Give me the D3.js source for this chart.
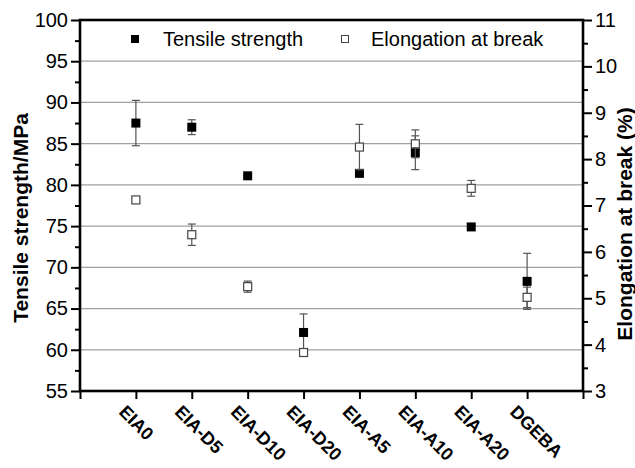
<!DOCTYPE html>
<html>
<head>
<meta charset="utf-8">
<script src="https://cdn.jsdelivr.net/npm/d3@7"></script>
<style>
  html, body { margin: 0; padding: 0; background: #fff; }
  svg { display: block; font-family: Arial, "Liberation Sans", sans-serif; }
</style>
</head>
<body>
<svg id="chart" width="635" height="468"></svg>
<script>
// Sample names along the x axis
const categories = ["EIA0", "EIA-D5", "EIA-D10", "EIA-D20", "EIA-A5", "EIA-A10", "EIA-A20", "DGEBA"];

// Tensile strength (MPa) and its standard deviation
const tensile    = [87.5, 87.0, 81.1, 62.1, 81.4, 83.9, 74.9, 68.3];
const tensileErr = [2.75, 0.9, 0.15, 2.25, 0.2, 2.05, 0.2, 3.4];

// Elongation at break (%) and its standard deviation
const elong    = [7.12, 6.37, 5.25, 3.83, 8.26, 8.33, 7.37, 5.02];
const elongErr = [0.05, 0.23, 0.12, 0.05, 0.49, 0.30, 0.17, 0.22];

// Axis ticks
const leftTicks  = [55, 60, 65, 70, 75, 80, 85, 90, 95, 100];
const rightTicks = [3, 4, 5, 6, 7, 8, 9, 10, 11];

const svg = d3.select("#chart");
const m = { left: 80, right: 583, top: 20, bottom: 391 };
const FONT = "Arial, 'Liberation Sans', sans-serif";

const x  = d3.scaleLinear().domain([0, 9]).range([m.left, m.right]);
const yL = d3.scaleLinear().domain([55, 100]).range([m.bottom, m.top]);
const yR = d3.scaleLinear().domain([3, 11]).range([m.bottom, m.top]);

// Horizontal grid lines on the left-axis major ticks
svg.append("g")
  .selectAll("line")
  .data(leftTicks.filter(t => t > 55 && t < 100))
  .join("line")
  .attr("x1", m.left).attr("x2", m.right)
  .attr("y1", d => yL(d)).attr("y2", d => yL(d))
  .attr("stroke", "#a0a0a0").attr("stroke-width", 1.2);

// Left axis: major and minor ticks
const leftMinor = d3.range(57.5, 100, 5);
svg.append("g")
  .attr("transform", `translate(${m.left},0)`)
  .call(d3.axisLeft(yL).tickValues(leftMinor).tickSize(5).tickFormat(""))
  .call(g => g.select(".domain").remove())
  .call(g => g.selectAll("line").attr("stroke", "#000").attr("stroke-width", 2));
const gl = svg.append("g")
  .attr("transform", `translate(${m.left},0)`)
  .call(d3.axisLeft(yL).tickValues(leftTicks).tickSize(9).tickPadding(3).tickFormat(d3.format("d")));
gl.select(".domain").remove();
gl.selectAll("line").attr("stroke", "#000").attr("stroke-width", 2);
gl.selectAll("text").attr("font-size", 20).attr("fill", "#000").attr("font-family", FONT);

// Right axis: major and minor ticks
const rightMinor = d3.range(3.5, 11, 1);
svg.append("g")
  .attr("transform", `translate(${m.right},0)`)
  .call(d3.axisRight(yR).tickValues(rightMinor).tickSize(5).tickFormat(""))
  .call(g => g.select(".domain").remove())
  .call(g => g.selectAll("line").attr("stroke", "#000").attr("stroke-width", 2));
const gr = svg.append("g")
  .attr("transform", `translate(${m.right},0)`)
  .call(d3.axisRight(yR).tickValues(rightTicks).tickSize(9).tickPadding(3).tickFormat(d3.format("d")));
gr.select(".domain").remove();
gr.selectAll("line").attr("stroke", "#000").attr("stroke-width", 2);
gr.selectAll("text").attr("font-size", 20).attr("fill", "#000").attr("font-family", FONT);

// Bottom axis: ticks at each sample plus both ends
const gb = svg.append("g")
  .attr("transform", `translate(0,${m.bottom})`)
  .call(d3.axisBottom(x).tickValues(d3.range(0, 10)).tickSize(8).tickFormat(""));
gb.select(".domain").remove();
gb.selectAll("line").attr("stroke", "#000").attr("stroke-width", 2);

// Rotated sample labels
svg.append("g")
  .selectAll("text")
  .data(categories)
  .join("text")
  .attr("transform", (d, i) => `translate(${x(i + 1) - 18},${m.bottom + 22}) rotate(45)`)
  .attr("text-anchor", "start")
  .attr("font-size", 18)
  .attr("font-weight", "bold")
  .attr("fill", "#000")
  .text(d => d);

// Frame
svg.append("rect")
  .attr("x", m.left).attr("y", m.top)
  .attr("width", m.right - m.left).attr("height", m.bottom - m.top)
  .attr("fill", "none").attr("stroke", "#000").attr("stroke-width", 2.6);

// Error bars
function errorBars(vals, errs, scale, cls) {
  const g = svg.append("g").attr("class", cls)
    .attr("stroke", "#555").attr("stroke-width", 1.2);
  const cap = 4;
  vals.forEach((v, i) => {
    const cx = x(i + 1);
    const top = scale(v + errs[i]), bot = scale(v - errs[i]);
    g.append("line").attr("x1", cx).attr("x2", cx).attr("y1", top).attr("y2", bot);
    g.append("line").attr("x1", cx - cap).attr("x2", cx + cap).attr("y1", top).attr("y2", top);
    g.append("line").attr("x1", cx - cap).attr("x2", cx + cap).attr("y1", bot).attr("y2", bot);
  });
}

const sq = 9;
errorBars(tensile, tensileErr, yL, "err-tensile");
svg.append("g")
  .selectAll("rect")
  .data(tensile)
  .join("rect")
  .attr("x", (d, i) => x(i + 1) - sq / 2)
  .attr("y", d => yL(d) - sq / 2)
  .attr("width", sq).attr("height", sq)
  .attr("fill", "#000");

errorBars(elong, elongErr, yR, "err-elong");
svg.append("g")
  .selectAll("rect")
  .data(elong)
  .join("rect")
  .attr("x", (d, i) => x(i + 1) - (sq - 1) / 2)
  .attr("y", d => yR(d) - (sq - 1) / 2)
  .attr("width", sq - 1).attr("height", sq - 1)
  .attr("fill", "#fff").attr("stroke", "#444").attr("stroke-width", 1.2);

// Legend
const legend = svg.append("g");
legend.append("rect").attr("x", 131).attr("y", 35).attr("width", 8).attr("height", 8).attr("fill", "#000");
legend.append("text").attr("x", 163).attr("y", 46).attr("font-size", 20).attr("fill", "#000").text("Tensile strength");
legend.append("rect").attr("x", 341.5).attr("y", 35.5).attr("width", 7).attr("height", 7)
  .attr("fill", "#fff").attr("stroke", "#444").attr("stroke-width", 1);
legend.append("text").attr("x", 371).attr("y", 46).attr("font-size", 20).attr("fill", "#000").text("Elongation at break");

// Axis titles
svg.append("text")
  .attr("transform", `translate(28,218) rotate(-90)`)
  .attr("text-anchor", "middle")
  .attr("font-size", 21).attr("font-weight", "bold").attr("fill", "#000")
  .text("Tensile strength/MPa");
svg.append("text")
  .attr("transform", `translate(632,224) rotate(-90)`)
  .attr("text-anchor", "middle")
  .attr("font-size", 21).attr("font-weight", "bold").attr("fill", "#000")
  .text("Elongation at break (%)");
</script>
</body>
</html>
